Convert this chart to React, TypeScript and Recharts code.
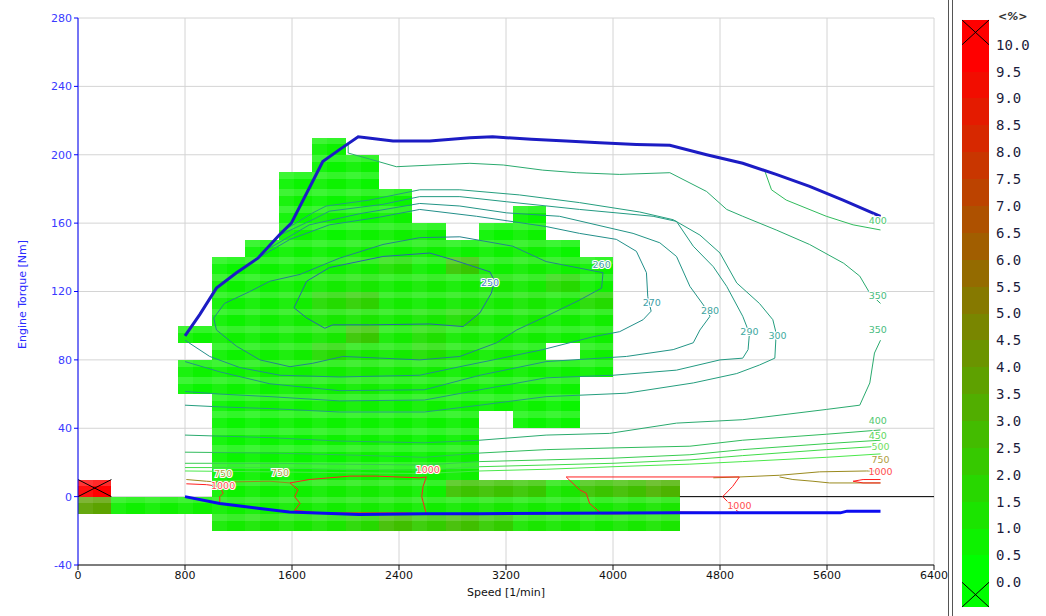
import React from 'react';
import {
  ComposedChart,
  Line,
  Scatter,
  XAxis,
  YAxis,
  CartesianGrid,
  ReferenceArea,
  ReferenceLine,
  Label,
} from 'recharts';

type Pt = [number, number];

// ---- axes -------------------------------------------------------------
const speedTicks = [0, 800, 1600, 2400, 3200, 4000, 4800, 5600, 6400];
const torqueTicks = [-40, 0, 40, 80, 120, 160, 200, 240, 280];

// ---- colour scale (deviation, %) ---------------------------------------
const scaleTicks = [0, 0.5, 1, 1.5, 2, 2.5, 3, 3.5, 4, 4.5, 5, 5.5, 6, 6.5, 7, 7.5, 8, 8.5, 9, 9.5, 10];
const scaleBandColors = [
  '#00ff00', '#0df200', '#1be400', '#28d700', '#36c900', '#43bc00', '#51ae00', '#5ea100', '#6b9400', '#798600',
  '#867900', '#946b00', '#a15e00', '#ae5100', '#bc4300', '#c93600', '#d72800', '#e41b00', '#f20d00', '#ff0000',
];
const scaleOver = 10.46;
const scaleUnder = -0.46;

// ---- measured grid cells (250 rpm x 10 Nm) ------------------------------
const cellWidth = 250;
const cellHeight = 10;
const cellSpeeds = [0, 250, 500, 750, 1000, 1250, 1500, 1750, 2000, 2250, 2500, 2750, 3000, 3250, 3500, 3750, 4000, 4250];
const cellTorques = [200, 190, 180, 170, 160, 150, 140, 130, 120, 110, 100, 90, 80, 70, 60, 50, 40, 30, 20, 10, 0, -10, -20];
const _ = null;
const cellValues: (number | null)[][] = [
  [_, _, _, _, _, _, _, 0.5, _, _, _, _, _, _, _, _, _, _],
  [_, _, _, _, _, _, _, 0.4, 0.5, _, _, _, _, _, _, _, _, _],
  [_, _, _, _, _, _, 0.4, 0.5, 0.4, _, _, _, _, _, _, _, _, _],
  [_, _, _, _, _, _, 0.5, 0.4, 0.5, 0.4, _, _, _, _, _, _, _, _],
  [_, _, _, _, _, _, 0.4, 0.5, 0.4, 0.5, _, _, _, 0.4, _, _, _, _],
  [_, _, _, _, _, _, 0.5, 0.4, 0.5, 0.6, 0.5, _, 0.4, 0.5, _, _, _, _],
  [_, _, _, _, _, 0.4, 0.5, 0.5, 0.6, 0.5, 0.6, 0.5, 0.5, 0.6, 0.4, _, _, _],
  [_, _, _, _, 0.4, 0.5, 0.5, 0.6, 0.7, 1.2, 0.6, 2.2, 0.6, 0.7, 0.6, 0.5, _, _],
  [_, _, _, _, 0.5, 0.5, 0.6, 0.8, 0.9, 0.7, 0.8, 0.7, 0.9, 0.8, 1.5, 0.6, _, _],
  [_, _, _, _, 0.5, 0.6, 0.7, 1.4, 1.8, 0.8, 0.7, 0.8, 0.8, 0.9, 0.8, 1.4, _, _],
  [_, _, _, _, 0.5, 0.6, 0.7, 0.9, 1.0, 0.8, 0.9, 1.2, 0.7, 0.8, 0.7, 0.7, _, _],
  [_, _, _, 0.5, 0.6, 0.6, 0.7, 0.9, 2.2, 0.8, 1.2, 0.8, 0.7, 0.7, 0.6, 0.6, _, _],
  [_, _, _, _, 0.5, 0.6, 0.7, 1.4, 0.9, 0.8, 1.2, 0.8, 0.7, 0.6, _, 0.6, _, _],
  [_, _, _, 0.5, 0.5, 0.6, 0.6, 0.7, 0.8, 0.7, 0.7, 0.6, 0.6, 0.6, 0.5, 0.5, _, _],
  [_, _, _, 0.4, 0.5, 0.5, 0.6, 0.6, 0.7, 0.6, 0.6, 0.6, 0.5, 0.5, 0.5, _, _, _],
  [_, _, _, _, 0.4, 0.5, 0.5, 0.6, 0.6, 0.5, 0.6, 0.5, 0.5, 0.5, 0.4, _, _, _],
  [_, _, _, _, 0.4, 0.4, 0.5, 0.5, 0.5, 0.5, 0.5, 0.5, _, 0.4, 0.4, _, _, _],
  [_, _, _, _, 0.4, 0.4, 0.4, 0.5, 0.5, 0.5, 0.4, 0.5, _, _, _, _, _, _],
  [_, _, _, _, 0.4, 0.4, 0.4, 0.4, 0.5, 0.4, 0.4, 0.5, _, _, _, _, _, _],
  [_, _, _, _, 0.4, 0.5, 0.4, 0.4, 0.5, 0.5, 0.5, 0.6, _, _, _, _, _, _],
  [12, _, _, _, 0.5, 0.6, 0.6, 0.7, 0.8, 0.8, 0.6, 2.4, 2.4, 2.2, 1.0, 2.3, 2.5, 3.0],
  [3.6, 0.6, 0.6, 0.6, 0.6, 0.6, 0.7, 0.7, 0.8, 0.8, 0.7, 0.8, 0.9, 0.8, 0.7, 0.8, 0.9, 1.0],
  [_, _, _, _, 0.8, 0.9, 0.9, 1.0, 1.5, 2.5, 2.0, 2.5, 2.0, 1.0, 0.9, 0.8, 0.9, 1.0],
];

// ---- full load and motoring curves --------------------------------------
const fullLoad: Pt[] = [
  [800, 94], [910, 106.5], [1035, 122], [1185, 131], [1345, 139.5], [1510, 153.5], [1595, 160], [1755, 184.5],
  [1830, 196], [1955, 203], [2095, 210.5], [2155, 210], [2355, 208], [2630, 208], [2930, 210], [3100, 210.5],
  [3390, 209], [3650, 208], [3900, 207], [4175, 206], [4425, 205.5], [4700, 200], [4970, 195], [5220, 188.5],
  [5470, 181.5], [5720, 173.5], [6000, 164],
];
const motoring: Pt[] = [
  [800, 0], [1060, -4], [1360, -7], [1580, -9], [2100, -10.5], [2600, -10], [3000, -10], [4500, -9.5],
  [5700, -9.5], [5750, -8.5], [6000, -8.5],
];
const zeroLine = [{ x: 4500, y: 0 }, { x: 6400, y: 0 }];

// ---- BSFC iso-lines [g/kWh] ---------------------------------------------
const bsfc250: Pt[] = [
  [1615, 110.5], [1710, 126], [1880, 134], [2280, 140.5], [2630, 142.5], [2805, 138.5], [3080, 131.5], [3115, 126],
  [3090, 119], [3005, 107.5], [2880, 99.5], [2630, 101], [2180, 100.5], [1905, 100.5], [1845, 98.5], [1710, 104.5],
  [1615, 110.5],
];
const bsfc260: Pt[] = [
  [1015, 104.5], [1095, 113], [1285, 120], [1435, 126], [1660, 130], [1955, 139.5], [2280, 147.5], [2555, 151.5],
  [2855, 152], [3250, 146.5], [3500, 137.5], [3925, 131], [3915, 122], [3750, 115], [3500, 105.5], [3280, 97.5],
  [3130, 90], [2855, 82], [2555, 80], [1980, 82], [1755, 78], [1585, 76], [1360, 80], [1185, 88], [1035, 97.5],
  [1015, 104.5],
];
const bsfc270: Pt[] = [
  [1345, 139.5], [1585, 150.5], [1880, 159], [2255, 163.5], [2555, 168], [2980, 164], [3500, 158], [3750, 154],
  [4025, 150.5], [4175, 143.5], [4250, 131], [4260, 117], [4285, 108.5], [4225, 103.5], [4050, 96.5], [3850, 93.5],
  [3475, 86], [3105, 80], [2855, 76], [2555, 71], [1955, 70], [1510, 71], [1210, 75.5], [985, 82], [800, 91.5],
];
const bsfc280: Pt[] = [
  [1435, 145.5], [1730, 159], [2105, 165.5], [2555, 171.5], [2855, 170], [3205, 166], [3600, 164], [4150, 154],
  [4350, 148.5], [4475, 140.5], [4575, 123], [4700, 109.5], [4725, 105.5], [4650, 97.5], [4600, 90], [4450, 86],
  [4100, 82], [3500, 79], [3005, 71], [2590, 62.5], [1955, 62], [1435, 66], [1060, 73], [800, 79],
];
const bsfc290: Pt[] = [
  [1510, 153], [1780, 163], [1880, 167], [2280, 171], [2555, 175.5], [2855, 175.5], [3205, 172.5], [3750, 168],
  [4300, 164], [4475, 161], [4600, 146.5], [4750, 134.5], [4850, 123], [4970, 105.5], [5020, 95.5], [5010, 86],
  [4970, 81], [4800, 80], [4475, 74], [4000, 71], [3500, 69.5], [3005, 62.5], [2590, 56.5], [1955, 56], [1435, 58.5],
  [1060, 60], [800, 61.5],
];
const bsfc300: Pt[] = [
  [1555, 156.5], [1755, 166], [1855, 170], [2180, 173.5], [2555, 179.5], [2855, 179.5], [3300, 176.5], [3750, 172],
  [4200, 166.5], [4450, 162], [4650, 153], [4800, 142.5], [4925, 125], [5095, 113], [5195, 103.5], [5220, 95.5],
  [5210, 81], [5095, 77], [4925, 72], [4600, 66.5], [4100, 60.5], [3500, 58.5], [3005, 53.5], [2590, 49.5],
  [1955, 49.5], [1435, 51.5], [1060, 52.5], [800, 53.5],
];
const bsfc350Upper: Pt[] = [
  [2020, 206], [2020, 201], [2180, 197.5], [2380, 193], [2930, 195], [3180, 194], [3475, 191], [3725, 189.5],
  [4050, 188.5], [4425, 189.5], [4700, 178.5], [4850, 168], [4970, 164], [5220, 156], [5470, 147.5], [5725, 136.5],
  [5845, 129], [5920, 119], [6000, 113],
];
const bsfc350Lower: Pt[] = [
  [6000, 91.5], [5955, 84], [5920, 66.5], [5845, 53.5], [5595, 51], [4970, 45], [4475, 43], [3975, 37], [3500, 36],
  [3005, 33], [2590, 31.5], [1955, 32.5], [1435, 34.5], [800, 36],
];
const bsfc400Upper: Pt[] = [[5135, 190.5], [5185, 179.5], [5295, 173.5], [5595, 164], [5795, 159], [6000, 156]];
const bsfc400Lower: Pt[] = [
  [6000, 39], [5595, 36.5], [4970, 33], [4575, 29.5], [4000, 28.5], [3500, 27.5], [3005, 25.5], [2590, 23],
  [1955, 24.5], [1435, 25.5], [800, 26],
];
const bsfc450: Pt[] = [
  [6000, 33], [5595, 31], [4970, 27.5], [4575, 24.5], [4000, 22.5], [3500, 21.5], [3005, 20.5], [2590, 18.5],
  [1955, 19], [1435, 19.5], [800, 19.5],
];
const bsfc500: Pt[] = [
  [6000, 29.5], [5595, 27.5], [4970, 24], [4575, 21.5], [4000, 19.5], [3500, 18.5], [3005, 17.5], [2590, 15.5],
  [1955, 16], [1435, 17], [800, 17],
];
const bsfc550: Pt[] = [
  [6000, 25], [5595, 23], [4970, 20.5], [4575, 19], [4000, 17.5], [3500, 16], [3005, 15], [2590, 13.5],
  [1955, 14], [1435, 14.5], [800, 15],
];
const bsfc750Left: Pt[] = [[810, 10], [960, 9], [1060, 8.5], [1435, 9], [1585, 8]];
const bsfc750Right: Pt[] = [[4750, 11], [4945, 11.5], [5245, 12.5], [5545, 14.5], [5895, 15], [6000, 15]];
const bsfc750RightLow: Pt[] = [[5245, 11.5], [5345, 10], [5495, 9], [5620, 8], [6000, 8]];
const bsfc1000Left: Pt[] = [[810, 7.5], [960, 7], [1060, 6], [1085, 2], [1060, 0], [1060, -4]];
const bsfc1000Mid: Pt[] = [
  [1585, 8], [1730, 10], [2030, 12], [2230, 12], [2555, 11], [2605, 11.5], [2580, 6], [2570, 0], [2590, -6],
  [2605, -10], [2430, -9.5], [2055, -9.5], [1805, -9.5], [1620, -8], [1660, -4], [1620, 0], [1645, 4], [1585, 8],
];
const bsfc1000High: Pt[] = [
  [3650, 11.5], [4945, 11.5], [4895, 6], [4820, 0], [4895, -6], [4945, -9.5], [4500, -9], [4050, -10], [3915, -10],
  [3825, -4], [3800, 2], [3750, 4], [3650, 11.5],
];
const bsfc1000Right: Pt[] = [[6000, 10], [5870, 10], [5795, 9], [5870, 8], [6000, 8]];

const isoColors: Record<string, string> = {
  '250': '#2a66a8', '260': '#24848c', '270': '#228f8a', '280': '#229486', '290': '#229a82', '300': '#249e7e',
  '350': '#2aaa6e', '400': '#30bb5c', '450': '#38cc50', '500': '#40dc48', '550': '#4ae84a', '750': '#9a8a1e',
  '1000': '#ff2020',
};
const labelColors: Record<string, string> = {
  '250': '#4a80c8', '260': '#40a0a0', '270': '#40a0a8', '280': '#40a4a0', '290': '#40a8a0', '300': '#40aca0',
  '350': '#48bc80', '400': '#50c870', '450': '#60d860', '500': '#70e060', '750': '#b0a040', '1000': '#ff5050',
};

const isoLines: { level: string; pts: Pt[] }[] = [
  { level: '250', pts: bsfc250 },
  { level: '260', pts: bsfc260 },
  { level: '270', pts: bsfc270 },
  { level: '280', pts: bsfc280 },
  { level: '290', pts: bsfc290 },
  { level: '300', pts: bsfc300 },
  { level: '350', pts: bsfc350Upper },
  { level: '350', pts: bsfc350Lower },
  { level: '400', pts: bsfc400Upper },
  { level: '400', pts: bsfc400Lower },
  { level: '450', pts: bsfc450 },
  { level: '500', pts: bsfc500 },
  { level: '550', pts: bsfc550 },
  { level: '750', pts: bsfc750Left },
  { level: '750', pts: bsfc750Right },
  { level: '750', pts: bsfc750RightLow },
  { level: '1000', pts: bsfc1000Left },
  { level: '1000', pts: bsfc1000Mid },
  { level: '1000', pts: bsfc1000High },
  { level: '1000', pts: bsfc1000Right },
];

const isoLabels = [
  { x: 3080, y: 125, text: '250' },
  { x: 3915, y: 136, text: '260' },
  { x: 4290, y: 113.5, text: '270' },
  { x: 4725, y: 109, text: '280' },
  { x: 5020, y: 96.5, text: '290' },
  { x: 5230, y: 94.5, text: '300' },
  { x: 5980, y: 161.5, text: '400' },
  { x: 5980, y: 117.5, text: '350' },
  { x: 5980, y: 97.5, text: '350' },
  { x: 5980, y: 44.5, text: '400' },
  { x: 5980, y: 36, text: '450' },
  { x: 6000, y: 29.5, text: '500' },
  { x: 6000, y: 21.5, text: '750' },
  { x: 6000, y: 14.5, text: '1000' },
  { x: 1510, y: 14, text: '750' },
  { x: 1085, y: 13.5, text: '750' },
  { x: 1085, y: 6.5, text: '1000' },
  { x: 2615, y: 16, text: '1000' },
  { x: 4945, y: -5, text: '1000' },
];

// ---- helpers ------------------------------------------------------------
const toXY = (pts: Pt[]) => pts.map(([x, y]) => ({ x, y }));

const rampColor = (v: number) => {
  const t = Math.max(0, Math.min(1, v / 10));
  const r = Math.round(255 * t);
  const g = Math.round(255 * (1 - t));
  return `rgb(${r},${g},0)`;
};

type Cell = { s: number; t: number; v: number };
const cells: Cell[] = [];
cellTorques.forEach((t, ri) => {
  cellSpeeds.forEach((s, ci) => {
    const v = cellValues[ri][ci];
    if (v !== null && v !== undefined) cells.push({ s, t, v });
  });
});

const crossPath = (x: number, y: number, w: number, h: number) =>
  `M${x},${y}L${x + w},${y + h}M${x + w},${y}L${x},${y + h}`;

const CellRect = (props: any) => {
  const { x, y, width, height, value } = props;
  if (x == null || y == null) return <g />;
  const over = value > 10;
  return (
    <g>
      <rect x={x} y={y} width={width} height={height} fill={rampColor(value)} shapeRendering="crispEdges" />
      <rect x={x} y={y} width={width} height={height * 0.4} fill="#ffffff" fillOpacity={0.16} shapeRendering="crispEdges" />
      <rect x={x} y={y} width={width * 0.45} height={height} fill="#ffffff" fillOpacity={0.06} shapeRendering="crispEdges" />
      {over && <path d={crossPath(x, y, width, height)} stroke="#000" strokeWidth={1} fill="none" />}
    </g>
  );
};

const BandRect = (props: any) => {
  const { x, y, width, height, color, cross } = props;
  if (x == null || y == null) return <g />;
  return (
    <g>
      <rect x={x} y={y} width={width} height={height} fill={color} shapeRendering="crispEdges" />
      {cross && <path d={crossPath(x, y, width, height)} stroke="#000" strokeWidth={1} fill="none" />}
    </g>
  );
};

const IsoLabel = (props: any) => {
  const { cx, cy, payload } = props;
  if (cx == null || cy == null) return <g />;
  return (
    <text
      x={cx}
      y={cy}
      textAnchor="middle"
      dominantBaseline="central"
      fontSize={9.5}
      fontFamily="DejaVu Sans"
      fill={labelColors[payload.text]}
      stroke="#ffffff"
      strokeWidth={2.2}
      paintOrder="stroke"
    >
      {payload.text}
    </text>
  );
};

const TorqueTitle = (props: any) => {
  const vb = props.viewBox || { x: 0, y: 18, width: 78, height: 547 };
  const cx = vb.x + 22;
  const cy = vb.y + vb.height / 2 + 3;
  return (
    <text
      x={cx}
      y={cy}
      transform={`rotate(-90 ${cx} ${cy})`}
      textAnchor="middle"
      dominantBaseline="central"
      fontSize={11}
      fontFamily="DejaVu Sans"
      fill="#2a2aff"
    >
      Engine Torque [Nm]
    </text>
  );
};

export default function App() {
  return (
    <div
      style={{
        position: 'fixed',
        left: 0,
        top: 0,
        width: 1046,
        height: 616,
        background: '#ffffff',
        overflow: 'hidden',
      }}
    >
      <div style={{ position: 'absolute', left: 0, top: 0 }}>
        <ComposedChart width={960} height={616} margin={{ top: 18, right: 26, bottom: 0, left: 0 }}>
          <CartesianGrid stroke="#d4d4d4" />
          <XAxis
            type="number"
            dataKey="x"
            domain={[0, 6400]}
            ticks={speedTicks}
            interval={0}
            allowDataOverflow
            height={51}
            stroke="#111"
            tickSize={5}
            tickMargin={1}
            tick={{ fill: '#111', fontSize: 11, fontFamily: 'DejaVu Sans' }}
          >
            <Label value="Speed [1/min]" position="insideBottom" offset={20} fill="#111" fontSize={11} fontFamily="DejaVu Sans" />
          </XAxis>
          <YAxis
            type="number"
            dataKey="y"
            domain={[-40, 280]}
            ticks={torqueTicks}
            interval={0}
            allowDataOverflow
            width={78}
            stroke="#0000ff"
            tickSize={4}
            tickMargin={2}
            tick={{ fill: '#3a3aff', fontSize: 11, fontFamily: 'DejaVu Sans' }}
          >
            <Label content={TorqueTitle} />
          </YAxis>

          {cells.map((c, i) => (
            <ReferenceArea
              key={`cell-${i}`}
              x1={c.s}
              x2={c.s + cellWidth}
              y1={c.t}
              y2={c.t + cellHeight}
              ifOverflow="visible"
              shape={(p: any) => <CellRect {...p} value={c.v} />}
            />
          ))}

          <ReferenceLine segment={zeroLine} stroke="#000" strokeWidth={1} />

          {isoLines.map((l, i) => (
            <Line
              key={`iso-${i}`}
              data={toXY(l.pts)}
              dataKey="y"
              type="linear"
              stroke={isoColors[l.level]}
              strokeWidth={1}
              dot={false}
              activeDot={false}
              isAnimationActive={false}
            />
          ))}

          <Line
            data={toXY(motoring)}
            dataKey="y"
            type="linear"
            stroke="#0c0cf0"
            strokeWidth={3}
            dot={false}
            activeDot={false}
            isAnimationActive={false}
          />
          <Line
            data={toXY(fullLoad)}
            dataKey="y"
            type="linear"
            stroke="#1c1cc4"
            strokeWidth={3}
            dot={false}
            activeDot={false}
            isAnimationActive={false}
          />
          <Scatter data={isoLabels} shape={IsoLabel} isAnimationActive={false} />
        </ComposedChart>
      </div>

      <div style={{ position: 'absolute', left: 948, top: 0, width: 1, height: 616, background: '#555' }} />
      <div style={{ position: 'absolute', left: 952, top: 0, width: 1, height: 616, background: '#555' }} />

      <div style={{ position: 'absolute', left: 950, top: 0 }}>
        <ComposedChart width={96} height={616} margin={{ top: 20, right: 0, bottom: 9, left: 12 }}>
          <XAxis type="number" dataKey="x" domain={[0, 1]} hide allowDataOverflow />
          <YAxis
            type="number"
            dataKey="y"
            orientation="right"
            domain={[scaleUnder, scaleOver]}
            allowDataOverflow
            ticks={scaleTicks}
            interval={0}
            width={57}
            axisLine={false}
            tickLine={false}
            tickSize={6}
            tickMargin={1}
            tickFormatter={(v: number) => v.toFixed(1)}
            tick={{ fill: '#1c1c3c', fontSize: 14, fontFamily: 'DejaVu Sans Mono' }}
          />
          {scaleBandColors.map((c, k) => (
            <ReferenceArea
              key={`band-${k}`}
              x1={0}
              x2={1}
              y1={scaleTicks[k]}
              y2={scaleTicks[k + 1]}
              ifOverflow="visible"
              shape={(p: any) => <BandRect {...p} color={c} />}
            />
          ))}
          <ReferenceArea
            x1={0}
            x2={1}
            y1={10}
            y2={scaleOver}
            ifOverflow="visible"
            shape={(p: any) => <BandRect {...p} color="#ff0000" cross />}
          />
          <ReferenceArea
            x1={0}
            x2={1}
            y1={scaleUnder}
            y2={0}
            ifOverflow="visible"
            shape={(p: any) => <BandRect {...p} color="#00ff00" cross />}
          />
        </ComposedChart>
      </div>

      <div
        style={{
          position: 'absolute',
          left: 998,
          top: 11,
          fontFamily: 'DejaVu Sans',
          fontSize: 11,
          fontWeight: 'bold',
          fontStyle: 'italic',
          color: '#333',
          lineHeight: '12px',
        }}
      >
        {'<%>'}
      </div>
    </div>
  );
}
